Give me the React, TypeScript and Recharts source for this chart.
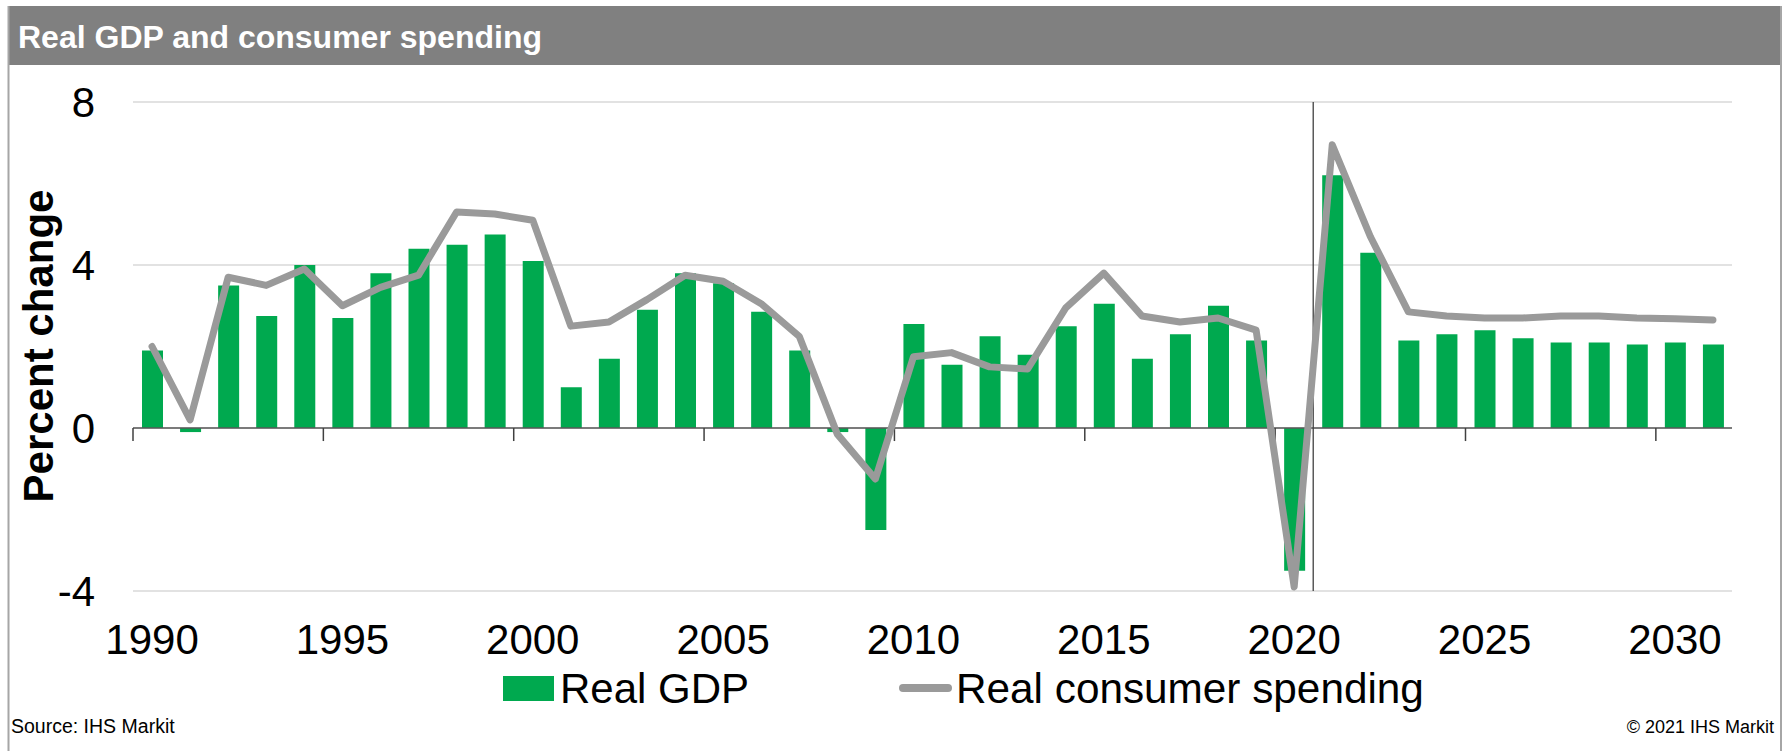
import React from 'react';
import {
  ComposedChart,
  Bar,
  Line,
  XAxis,
  YAxis,
  CartesianGrid,
  ReferenceLine,
} from 'recharts';

const years = [
  '1990', '1991', '1992', '1993', '1994', '1995', '1996', '1997', '1998', '1999',
  '2000', '2001', '2002', '2003', '2004', '2005', '2006', '2007', '2008', '2009',
  '2010', '2011', '2012', '2013', '2014', '2015', '2016', '2017', '2018', '2019',
  '2020', '2021', '2022', '2023', '2024', '2025', '2026', '2027', '2028', '2029',
  '2030', '2031',
];

const realGdp = [
  1.9, -0.1, 3.5, 2.75, 4.0, 2.7, 3.8, 4.4, 4.5, 4.75,
  4.1, 1.0, 1.7, 2.9, 3.8, 3.55, 2.85, 1.9, -0.1, -2.5,
  2.55, 1.55, 2.25, 1.8, 2.5, 3.05, 1.7, 2.3, 3.0, 2.15,
  -3.5, 6.2, 4.3, 2.15, 2.3, 2.4, 2.2, 2.1, 2.1, 2.05,
  2.1, 2.05,
];

const realConsumerSpending = [
  2.0, 0.2, 3.7, 3.5, 3.9, 3.0, 3.45, 3.75, 5.3, 5.25,
  5.1, 2.5, 2.6, 3.15, 3.75, 3.6, 3.05, 2.25, -0.15, -1.25,
  1.75, 1.85, 1.5, 1.45, 2.95, 3.8, 2.75, 2.6, 2.7, 2.4,
  -3.9, 6.95, 4.7, 2.85, 2.75, 2.7, 2.7, 2.75, 2.75, 2.7,
  2.68, 2.65,
];

const yTicks = [-4, 0, 4, 8];
const labelledYears = ['1990', '1995', '2000', '2005', '2010', '2015', '2020', '2025', '2030'];
const forecastStart = '2021';

const data = years.map((year, i) => ({
  year,
  gdp: realGdp[i],
  pce: realConsumerSpending[i],
}));

const FONT = '"Liberation Sans", Arial, sans-serif';
const GREEN = '#00a94f';
const GREY_LINE = '#9a9a9a';

export default function App() {
  return (
    <div
      style={{
        position: 'absolute',
        left: 0,
        top: 0,
        width: 1785,
        height: 751,
        background: '#ffffff',
        overflow: 'hidden',
        fontFamily: FONT,
      }}
    >
      <div style={{ position: 'absolute', left: 0, top: 0 }}>
        <ComposedChart
          width={1785}
          height={751}
          data={data}
          margin={{ top: 102, right: 53, bottom: 100, left: 0 }}
        >
          <CartesianGrid vertical={false} stroke="#d9d9d9" strokeWidth={1.5} />
          <XAxis
            dataKey="year"
            interval={0}
            axisLine={false}
            tickLine={false}
            tickSize={0}
            tickMargin={33}
            height={60}
            tick={(props: any) => {
              const { x, y, payload } = props;
              if (!labelledYears.includes(String(payload.value))) return <g />;
              return (
                <text
                  x={x}
                  y={y}
                  dy="0.71em"
                  textAnchor="middle"
                  fontSize={42}
                  fontFamily={FONT}
                  fill="#000000"
                >
                  {payload.value}
                </text>
              );
            }}
          />
          <YAxis
            domain={[-4, 8]}
            ticks={yTicks}
            width={133}
            axisLine={false}
            tickLine={false}
            tickSize={0}
            tickMargin={38}
            tick={{ fontSize: 42, fontFamily: FONT, fill: '#000000' }}
            allowDataOverflow
          />
          <Bar dataKey="gdp" fill={GREEN} barSize={21} isAnimationActive={false} />
          <ReferenceLine y={0} stroke="#595959" strokeWidth={1.5} />
          {labelledYears.map((yr) => (
            <ReferenceLine
              key={yr}
              segment={[
                { x: yr, y: 0 },
                { x: yr, y: -0.32 },
              ]}
              position="start"
              stroke="#404040"
              strokeWidth={1.5}
              ifOverflow="visible"
            />
          ))}
          <ReferenceLine x={forecastStart} position="start" stroke="#404040" strokeWidth={1.3} />
          <Line
            type="linear"
            dataKey="pce"
            stroke={GREY_LINE}
            strokeWidth={7}
            strokeLinecap="round"
            strokeLinejoin="round"
            dot={false}
            activeDot={false}
            isAnimationActive={false}
          />
        </ComposedChart>
      </div>
      <svg
        width={1785}
        height={751}
        style={{ position: 'absolute', left: 0, top: 0, pointerEvents: 'none' }}
      >
        <rect x={8} y={6} width={1773} height={59} fill="#808080" />
        <line x1={8.5} y1={6} x2={8.5} y2={751} stroke="#a6a6a6" strokeWidth={2} />
        <line x1={1781} y1={6} x2={1781} y2={751} stroke="#a6a6a6" strokeWidth={2} />
        <text x={18} y={48} fill="#ffffff" fontSize={32} fontWeight="bold" fontFamily={FONT}>
          Real GDP and consumer spending
        </text>
        <text
          transform="translate(53, 346) rotate(-90)"
          textAnchor="middle"
          fontSize={42}
          fontWeight="bold"
          fontFamily={FONT}
          fill="#000000"
        >
          Percent change
        </text>
        <rect x={503} y={676} width={51} height={25} fill={GREEN} />
        <text x={560} y={703} fontSize={42} fontFamily={FONT} fill="#000000">
          Real GDP
        </text>
        <line
          x1={903}
          y1={688}
          x2={948}
          y2={688}
          stroke={GREY_LINE}
          strokeWidth={8}
          strokeLinecap="round"
        />
        <text x={956} y={703} fontSize={42.3} fontFamily={FONT} fill="#000000">
          Real consumer spending
        </text>
        <text x={11} y={733} fontSize={19.5} fontFamily={FONT} fill="#000000">
          Source: IHS Markit
        </text>
        <text x={1774} y={733} fontSize={18} fontFamily={FONT} fill="#000000" textAnchor="end">
          © 2021 IHS Markit
        </text>
      </svg>
    </div>
  );
}
